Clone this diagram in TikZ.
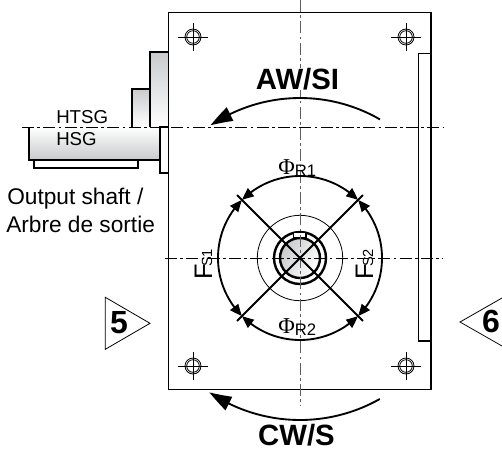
\documentclass[tikz,border=0pt]{standalone}
\usepackage{fontspec}
\setmainfont{Liberation Sans}
\newfontfamily\phiFont{Liberation Serif}
\usepackage{tikz}
\usetikzlibrary{arrows.meta,bending}
\tikzstyle{pixelGrid} = [x = .75pt, y = -.75pt]
\definecolor{shadeColor}{RGB}{200,202,204}
\definecolor{edgeColor}{RGB}{95,95,95}
\tikzstyle{plateStyle} = [color=black, line width=.9pt]
\tikzstyle{casingTop} = [color=black, line width=1.4pt, top color=shadeColor, bottom color=white]
\tikzstyle{casingBottom} = [color=black, line width=1.4pt, top color=white, bottom color=shadeColor]
\tikzstyle{plainBox} = [color=black, line width=1.3pt, fill=white]
\tikzstyle{centerLine} = [color=black, line width=.7pt, dash pattern=on 9pt off 2.5pt on 2pt off 2.5pt]
\tikzstyle{radialLine} = [color=black, line width=1.4pt]
\tikzstyle{radialArc} = [color=black, line width=1.4pt, {Triangle[length=9pt,width=7.5pt,bend]}-{Triangle[length=9pt,width=7.5pt,bend]}]
\tikzstyle{sweepArc} = [color=black, line width=1.4pt, -{Triangle[length=17pt,width=11pt,bend]}]
\tikzstyle{thinLine} = [color=black, line width=.6pt]
\tikzstyle{labelText} = [inner sep=0pt, anchor=base west, font=\fontsize{14}{14}\selectfont]
\tikzstyle{shaftText} = [inner sep=0pt, anchor=base west, font=\fontsize{17}{17}\selectfont]
\tikzstyle{sweepText} = [inner sep=0pt, anchor=base, font=\bfseries\fontsize{22}{22}\selectfont]
\tikzstyle{viewText} = [inner sep=0pt, anchor=base, font=\bfseries\fontsize{24}{24}\selectfont]
\newcommand{\mountHole}[2]{
  \draw [thinLine] (#1, #2) circle (8);
  \draw [thinLine] (#1, #2) circle (6.3);
  \draw [thinLine] (#1 - 15, #2) -- + (30, 0);
  \draw [thinLine] (#1, #2 - 14) -- + (0, 28);
}
\newcommand{\phiLabel}[4]{\node [inner sep=0pt, anchor=base west, font=\phiFont\fontsize{17}{17}\selectfont] (#1) at (#2, #3) {Φ\normalfont\fontsize{12.5}{12.5}\selectfont\raisebox{-2pt}{#4}};}
\newcommand{\forceLabel}[4]{\node [inner sep=0pt, anchor=base west, rotate=90, font=\fontsize{19}{19}\selectfont] (#1) at (#2, #3) {F\kern-2pt\fontsize{11}{11}\selectfont#4};}
\begin{document}
\begin{tikzpicture}[pixelGrid]
  \useasboundingbox (0, 0) rectangle (502, 450);
  \coordinate (shaftCenter) at (300, 258);

  % gearbox casing
  \draw [casingTop] (149.7, 127) |- (168.5, 52.3) -- (168.5, 127);
  \draw [casingTop] (132, 127) |- (149.7, 88.7) -- (149.7, 127);
  \draw [plainBox] (160.3, 127) rectangle (168.5, 172.7);
  \draw [plainBox] (34, 160) rectangle (137.7, 168.3);
  \draw [casingBottom] (29.3, 127) -- (29.3, 159.7) -- (160.3, 159.7) -- (160.3, 127);

  % plate
  \draw [plateStyle] (168.5, 12.5) rectangle (431, 389.5);
  \draw [plateStyle] (431, 53.5) -| (418.5, 341) -- (431, 341);
  \mountHole{193}{37}
  \mountHole{406}{37}
  \mountHole{193}{366}
  \mountHole{406}{366}

  % shaft
  \draw [thinLine] (shaftCenter) circle (42.7);
  \shade [left color=shadeColor, right color=white, shading angle=60] (shaftCenter) circle (20);
  \draw [color=black, line width=1.8pt] (shaftCenter) circle (26);
  \draw [color=black, line width=1.8pt] (shaftCenter) circle (20);
  \draw [plainBox] (293.5, 232.5) rectangle (306, 238);

  % center lines
  \draw [centerLine] (22, 127) -- (443, 127);
  \draw [centerLine] (165, 258) -- (443, 258);
  \draw [centerLine, color=edgeColor] (300, 0) -- (300, 406);

  % diagonals and arcs
  \foreach \diagAngle in {45,135,225,315} {
    \draw [radialLine] (shaftCenter) -- ++ (\diagAngle:89);
  }
  \foreach \arcStart in {-135,-45,45,135} {
    \draw [radialArc] (shaftCenter) ++ (\arcStart:82) arc [start angle=\arcStart, delta angle=90, radius=82];
  }

  % rotation arrows
  \draw [sweepArc] (shaftCenter) ++ (-60:160) arc [start angle=-60, end angle=-124, radius=160];
  \draw [sweepArc] (shaftCenter) ++ (60.5:162) arc [start angle=60.5, end angle=124, radius=162];

  % labels
  \node [labelText] (htsgLabel) at (56, 123) {HTSG};
  \node [labelText] (hsgLabel) at (56, 145) {HSG};
  \node [shaftText] (shaftLabelA) at (7, 204) {Output shaft /};
  \node [shaftText] (shaftLabelB) at (6, 232) {Arbre de sortie};
  \node [sweepText, fill=white] (awLabel) at (297.5, 89) {AW/SI};
  \node [sweepText] (cwLabel) at (296.5, 445.5) {CW/S};
  \phiLabel{phiTop}{278}{174}{R1}
  \phiLabel{phiBottom}{278}{333}{R2}
  \forceLabel{forceLeft}{212}{280}{S1}
  \forceLabel{forceRight}{373}{280}{S2}

  % view markers
  \draw [thinLine] (105.3, 297.3) -- (150, 323.3) -- (105.3, 349.3) -- cycle;
  \draw [thinLine] (502, 298) -- (460, 322) -- (502, 346);
  \node [viewText] (viewFive) at (119, 333) {5};
  \node [viewText] (viewSix) at (491, 332) {6};
\end{tikzpicture}
\end{document}
